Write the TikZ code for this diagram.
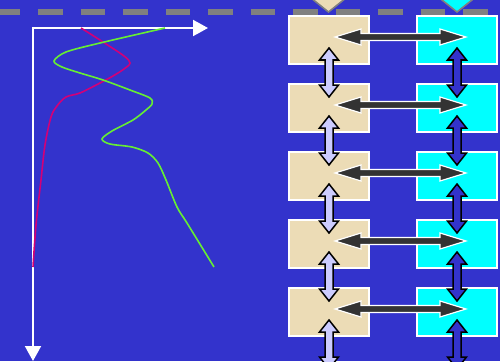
\documentclass[tikz,border=0pt]{standalone}
\usetikzlibrary{calc,arrows.meta}
\definecolor{bgblue}{RGB}{51,51,204}
\definecolor{tanbox}{RGB}{236,220,182}
\definecolor{cyanbox}{RGB}{0,255,255}
\definecolor{dashgray}{RGB}{128,128,128}
\definecolor{lav}{RGB}{204,204,255}
\definecolor{darkarr}{RGB}{51,51,51}
\definecolor{curvemag}{RGB}{210,0,120}
\definecolor{curvegreen}{RGB}{102,238,51}
\tikzset{
  tanstyle/.style={draw=white,line width=1.5pt,fill=tanbox,minimum width=80pt,minimum height=48pt,inner sep=0pt},
  cyanstyle/.style={draw=white,line width=1.5pt,fill=cyanbox,minimum width=80pt,minimum height=48pt,inner sep=0pt},
  harr/.style={fill=darkarr,draw=white,line width=1.2pt,line join=miter},
  varrtan/.style={fill=lav,draw=black,line width=1.5pt,line join=miter},
  varrcyan/.style={fill=bgblue,draw=black,line width=1.5pt,line join=miter},
  axisline/.style={draw=white,line width=2pt,-{Triangle[length=15pt,width=16pt]}},
}
\newcommand\hdarrow[3]{%
  \draw[#3] let \p1=(#1), \p2=(#2) in
  (\x1,\y1) -- (\x1+26pt,\y1+8pt) -- (\x1+26pt,\y1+3.5pt) -- (\x2-26pt,\y1+3.5pt) -- (\x2-26pt,\y1+8pt) -- (\x2,\y1)
  -- (\x2-26pt,\y1-8pt) -- (\x2-26pt,\y1-3.5pt) -- (\x1+26pt,\y1-3.5pt) -- (\x1+26pt,\y1-8pt) -- cycle;}
\newcommand\vdarrow[3]{%
  \draw[#3] let \p1=(#1), \p2=(#2) in
  (\x1,\y1) -- (\x1+9.5pt,\y1-12pt) -- (\x1+4pt,\y1-12pt) -- (\x1+4pt,\y2+12pt) -- (\x1+9.5pt,\y2+12pt) -- (\x1,\y2)
  -- (\x1-9.5pt,\y2+12pt) -- (\x1-4pt,\y2+12pt) -- (\x1-4pt,\y1-12pt) -- (\x1-9.5pt,\y1-12pt) -- cycle;}
\begin{document}
\begin{tikzpicture}[x=1pt,y=-1pt]
\clip (0,0) rectangle (500,361);
\fill[bgblue] (0,0) rectangle (500,361);
% top diamonds
\draw[fill=tanbox,draw=dashgray,line width=1.5pt] (328.5,12) -- (348.5,-4) -- (328.5,-20) -- (308.5,-4) -- cycle;
\draw[fill=cyanbox,draw=dashgray,line width=1.5pt] (457,12) -- (477,-4) -- (457,-20) -- (437,-4) -- cycle;
% dashed line
\draw[dashgray,line width=6pt,dash pattern=on 24.5pt off 18pt] (-4.5,12) -- (505,12);
% axes
\coordinate (o) at (33,28);
\coordinate (xe) at (208,28);
\coordinate (ye) at (33,361);
\draw[axisline] (o) -- (xe);
\draw[axisline] (33,27) -- (ye);
% curves
\draw[curvemag,line width=1.6pt] plot[smooth,tension=0.55] coordinates {(81,28) (103,42) (124,56) (130,63) (124,69) (113,76) (100,83) (80,93) (66,97) (57,106) (51,117) (45,145) (41,180) (36,225) (33,267)};
\draw[curvegreen,line width=1.6pt] plot[smooth,tension=0.5] coordinates {(165,28) (100,43) (66,52) (54,61) (62,67) (80,73) (103,80) (130,90) (150,98) (152,104) (146,110) (133,120) (112,131) (102,139) (110,144) (132,147) (148,153) (158,163) (166,180) (177,207) (187,223) (214,267)};
% boxes
\foreach \i in {1,...,5}{
  \node[tanstyle] (t\i) at (329,{40+68*(\i-1)}) {};
  \node[cyanstyle] (c\i) at (457,{40+68*(\i-1)}) {};
}
\coordinate (t6) at (329,380);
\coordinate (c6) at (457,380);
% vertical arrows
\foreach \i [evaluate=\i as \j using int(\i+1)] in {1,...,5}{
  \vdarrow{$(t\i.center)+(0,8)$}{$(t\j.center)+(0,-11)$}{varrtan}
  \vdarrow{$(c\i.center)+(0,8)$}{$(c\j.center)+(0,-11)$}{varrcyan}
}
% horizontal arrows
\foreach \i in {1,...,5}{
  \hdarrow{$(t\i.center)+(6,-3)$}{$(c\i.center)+(9,-3)$}{harr}
}
\end{tikzpicture}
\end{document}
